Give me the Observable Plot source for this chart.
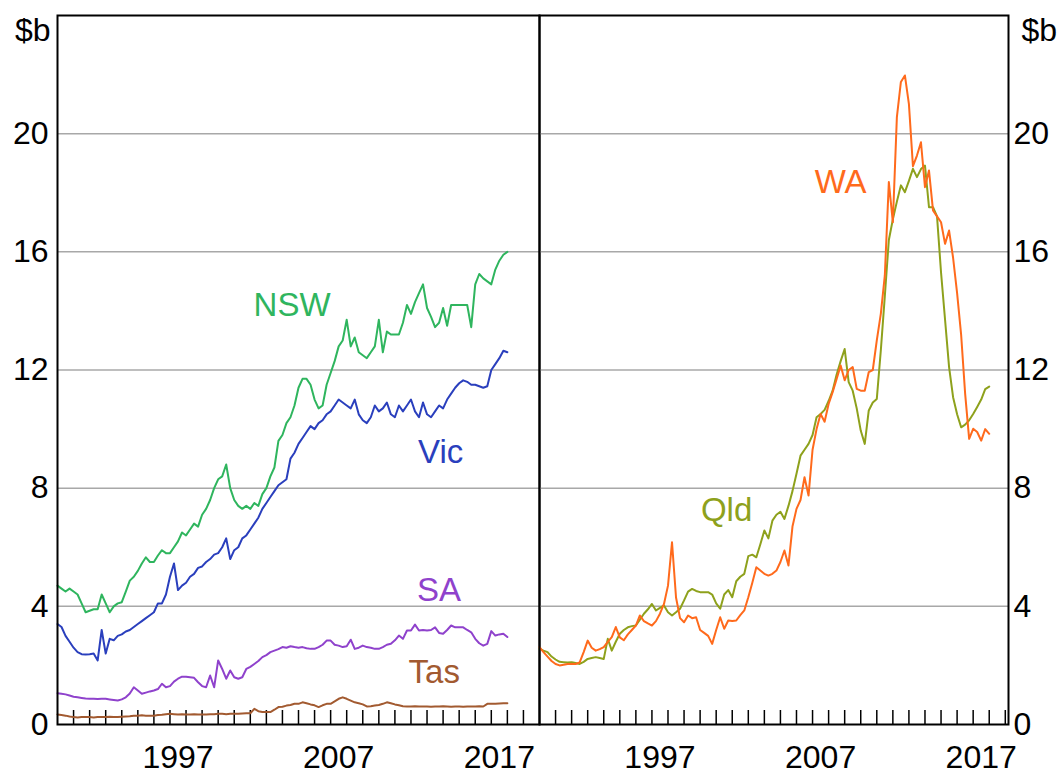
<!DOCTYPE html>
<html><head><meta charset="utf-8">
<script src="https://cdn.jsdelivr.net/npm/d3@7"></script>
<script src="https://cdn.jsdelivr.net/npm/@observablehq/plot@0.6"></script>
<style>
html,body{margin:0;padding:0;background:#fff;}
#wrap{position:relative;width:1064px;height:774px;overflow:hidden;font-family:"Liberation Sans",Arial,sans-serif;}
#wrap svg{position:absolute;top:0;}
</style></head><body><div id="wrap"></div>
<script>
// Quarterly values, $b, first quarter 1990 onwards
const startYear = 1990;
const nsw = [4.7,4.6,4.5,4.6, 4.5,4.4,4.1,3.8, 3.85,3.9,3.9,4.4, 4.1,3.8,4.0,4.1,
  4.14,4.5,4.87,5.0, 5.2,5.45,5.66,5.5, 5.5,5.72,5.9,5.8, 5.8,6.0,6.2,6.5,
  6.4,6.6,6.8,6.7, 7.1,7.3,7.6,8.0, 8.3,8.4,8.8,8.0, 7.6,7.4,7.3,7.4,
  7.3,7.5,7.4,7.8, 8.0,8.4,8.7,9.6, 9.8,10.2,10.4,10.8, 11.4,11.7,11.7,11.5,
  11.0,10.7,10.8,11.5, 11.9,12.3,12.8,13.0, 13.7,12.8,13.1,12.6, 12.5,12.4,12.6,12.8,
  13.7,12.6,13.3,13.2, 13.2,13.2,13.6,14.2, 13.9,14.3,14.6,14.9, 14.1,13.8,13.45,13.6,
  14.1,13.5,14.2,14.2, 14.2,14.2,14.2,13.45, 14.9,15.25,15.1,15.0, 14.9,15.4,15.7,15.9,
  16.0];
const vic = [3.4,3.3,3.0,2.8, 2.6,2.45,2.38,2.37, 2.38,2.4,2.17,3.2, 2.4,2.9,2.85,3.0,
  3.05,3.15,3.2,3.3, 3.4,3.5,3.6,3.7, 3.8,4.1,4.1,4.4, 5.0,5.45,4.55,4.7,
  4.8,5.0,5.1,5.3, 5.35,5.5,5.6,5.75, 5.8,6.0,6.3,5.6, 5.9,6.0,6.3,6.4,
  6.6,6.8,7.0,7.3, 7.5,7.7,7.9,8.1, 8.2,8.3,9.0,9.2, 9.5,9.7,9.9,10.1,
  10.0,10.2,10.3,10.5, 10.6,10.8,11.0,10.9, 10.8,10.7,11.0,10.5, 10.3,10.2,10.4,10.8,
  10.6,10.7,10.9,10.5, 10.4,10.8,10.6,10.8, 11.0,10.6,10.4,10.9, 10.5,10.4,10.6,10.8,
  10.7,11.0,11.2,11.4, 11.55,11.65,11.6,11.5, 11.5,11.45,11.4,11.45, 12.0,12.2,12.4,12.65,
  12.6];
const sa = [1.06,1.04,1.02,0.98, 0.94,0.92,0.9,0.88, 0.87,0.87,0.86,0.87, 0.87,0.85,0.83,0.81,
  0.85,0.92,1.05,1.26, 1.15,1.04,1.08,1.12, 1.15,1.2,1.38,1.26, 1.3,1.45,1.55,1.62,
  1.62,1.6,1.58,1.43, 1.3,1.26,1.66,1.26, 2.17,1.88,1.55,1.83, 1.6,1.55,1.6,1.88,
  1.95,2.05,2.15,2.28, 2.35,2.45,2.5,2.55, 2.62,2.6,2.65,2.62, 2.6,2.62,2.58,2.56,
  2.56,2.62,2.7,2.84, 2.84,2.7,2.67,2.62, 2.65,2.87,2.56,2.6, 2.67,2.62,2.6,2.56,
  2.56,2.62,2.7,2.73, 2.85,3.01,2.9,3.18, 3.18,3.38,3.18,3.2, 3.18,3.2,3.29,3.1,
  3.07,3.2,3.35,3.29, 3.29,3.29,3.2,3.12, 2.9,2.75,2.67,2.73, 3.16,3.01,3.05,3.07,
  2.96];
const tas = [0.34,0.32,0.3,0.27, 0.25,0.24,0.25,0.25, 0.25,0.24,0.25,0.25, 0.25,0.26,0.25,0.25,
  0.26,0.27,0.28,0.3, 0.3,0.31,0.3,0.3, 0.3,0.32,0.33,0.35, 0.36,0.35,0.34,0.35,
  0.34,0.34,0.35,0.34, 0.34,0.34,0.35,0.35, 0.36,0.36,0.35,0.36, 0.36,0.36,0.37,0.38,
  0.38,0.53,0.45,0.42, 0.42,0.42,0.5,0.59, 0.6,0.64,0.66,0.7, 0.7,0.75,0.72,0.68,
  0.65,0.59,0.65,0.7, 0.7,0.78,0.87,0.92, 0.87,0.81,0.75,0.72, 0.68,0.61,0.62,0.64,
  0.66,0.7,0.75,0.72, 0.68,0.65,0.62,0.61, 0.61,0.62,0.61,0.61, 0.61,0.6,0.61,0.61,
  0.62,0.61,0.6,0.61, 0.61,0.6,0.61,0.61, 0.61,0.62,0.61,0.7, 0.7,0.7,0.71,0.72,
  0.72];
const wa = [2.62,2.45,2.3,2.15, 2.05,2.0,2.02,2.05, 2.05,2.05,2.1,2.45, 2.84,2.6,2.5,2.55,
  2.62,2.8,2.96,3.3, 2.95,2.85,3.05,3.2, 3.35,3.69,3.5,3.42, 3.35,3.5,3.75,4.08,
  4.7,6.17,4.3,3.6, 3.46,3.69,3.6,3.63, 3.2,3.1,3.0,2.73, 3.2,3.63,3.24,3.52,
  3.5,3.52,3.7,3.86, 4.31,4.8,5.32,5.21, 5.1,5.04,5.1,5.21, 5.5,5.89,5.38,6.7,
  7.3,7.6,8.37,7.75, 9.3,10.0,10.51,10.25, 10.85,11.25,11.7,12.15, 11.65,12.0,12.1,11.36,
  11.3,11.3,11.93,12.0, 13.0,13.9,15.2,18.36, 17.0,20.56,21.75,21.97, 21.0,18.9,19.26,19.71,
  18.19,18.75,17.4,17.2, 17.0,16.27,16.72,15.8, 14.6,13.2,11.2,9.67, 10.01,9.9,9.61,10.0,
  9.84];
const qld = [2.56,2.5,2.45,2.3, 2.2,2.12,2.11,2.1, 2.11,2.08,2.05,2.12, 2.22,2.25,2.28,2.25,
  2.22,2.9,2.5,2.8, 3.07,3.2,3.29,3.33, 3.35,3.55,3.75,3.9, 4.08,3.86,3.95,4.03,
  3.8,3.69,3.8,3.92, 4.2,4.5,4.59,4.52, 4.48,4.48,4.48,4.4, 4.1,3.92,4.4,4.55,
  4.31,4.85,5.0,5.1, 5.7,5.75,5.66,6.1, 6.57,6.3,6.9,7.1, 7.2,6.96,7.4,7.9,
  8.49,9.1,9.3,9.5, 9.8,10.4,10.51,10.65, 10.95,11.3,11.85,12.3, 12.71,11.59,11.3,10.7,
  9.95,9.5,10.63,10.9, 11.02,12.66,14.5,16.4, 17.1,17.7,18.25,18.02, 18.4,18.81,18.53,18.8,
  18.92,17.51,17.51,17.2, 15.3,13.7,12.1,11.08, 10.5,10.06,10.15,10.3, 10.51,10.75,11.0,11.35,
  11.44];

const yTicks = [0, 4, 8, 12, 16, 20];
const gridValues = [4, 8, 12, 16, 20];
const tickYears = d3.range(1991, 2020);
const yearLabels = [1997, 2007, 2017];

const leftSeries = [
  {name: "NSW", values: nsw, color: "#2fb55e"},
  {name: "Vic", values: vic, color: "#2a3fbd"},
  {name: "SA", values: sa, color: "#8f42cc"},
  {name: "Tas", values: tas, color: "#a25a30"}
];
const rightSeries = [
  {name: "Qld", values: qld, color: "#8ea11c"},
  {name: "WA", values: wa, color: "#ff6a1c"}
];
// label anchor points (year, $b)
const leftLabels = [
  {text: "NSW", year: 2004.6, value: 14.2, color: "#2fb55e"},
  {text: "Vic", year: 2013.85, value: 9.2, color: "#2a3fbd"},
  {text: "SA", year: 2013.75, value: 4.55, color: "#8f42cc"},
  {text: "Tas", year: 2013.45, value: 1.75, color: "#a25a30"}
];
const rightLabels = [
  {text: "WA", year: 2008.75, value: 18.35, color: "#ff6a1c"},
  {text: "Qld", year: 2001.65, value: 7.25, color: "#8ea11c"}
];

function rows(s) {
  return s.values.map((v, i) => ({state: s.name, t: startYear + i * 0.25, v}));
}

const FONT = "'Liberation Sans', Arial, sans-serif";
const H = 774, MT = 15, MB = 50;
const tickLen = 14 * 24 / (H - MT - MB); // 14px inward ticks, in $b units

function panel({series, labels, width, marginLeft, marginRight, xDomain, side}) {
  const left = side === "left";
  return Plot.plot({
    width, height: H, marginTop: MT, marginBottom: MB, marginLeft, marginRight,
    style: {fontFamily: FONT, fontSize: "32px", color: "#000", background: "transparent", overflow: "visible"},
    x: {domain: xDomain, axis: null},
    y: {domain: [0, 24]},
    marks: [
      Plot.ruleY(gridValues, {stroke: "#a8a8a8", strokeWidth: 1.5}),
      Plot.ruleX(tickYears, {x: d => d, y1: 0, y2: tickLen, stroke: "#000", strokeWidth: 1.5}),
      ...series.map(s => Plot.line(rows(s), {x: "t", y: "v", stroke: s.color, strokeWidth: 2})),
      Plot.axisY({ticks: yTicks, anchor: side, tickSize: 0, tickPadding: left ? 9 : 5, fontSize: 32, tickFormat: d => String(d), label: null}),
      Plot.text(["$b"], {frameAnchor: left ? "top-left" : "top-right", text: d => d, textAnchor: left ? "end" : "start", lineAnchor: "middle", dx: left ? -7 : 13, dy: 15, fontSize: 32}),
      Plot.text(yearLabels, {x: d => d + 0.5, y: 0, text: d => String(d), dy: 33, fontSize: 32, textAnchor: "middle"}),
      Plot.text(labels, {x: "year", y: "value", text: "text", fill: "color", fontSize: 33, textAnchor: "middle"}),
      Plot.frame({stroke: "#000", strokeWidth: 2})
    ]
  });
}

const wrap = document.getElementById("wrap");
const leftPlot = panel({series: leftSeries, labels: leftLabels, width: 539, marginLeft: 57, marginRight: 0, xDomain: [1990, 2020], side: "left"});
leftPlot.style.left = "0px";
const rightPlot = panel({series: rightSeries, labels: rightLabels, width: 526, marginLeft: 1, marginRight: 56, xDomain: [1990, 2019.2], side: "right"});
rightPlot.style.left = "538px";
wrap.appendChild(leftPlot);
wrap.appendChild(rightPlot);
</script></body></html>
